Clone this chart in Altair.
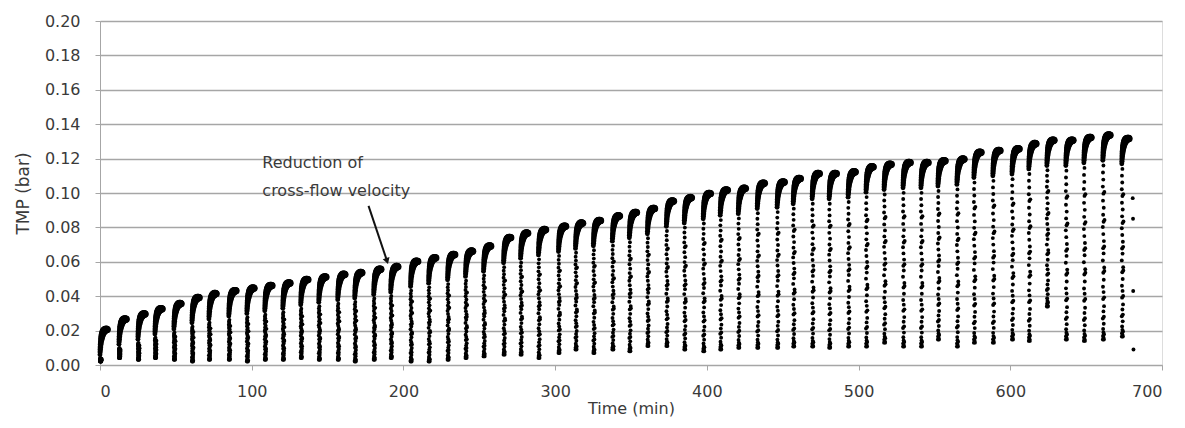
import altair as alt
import pandas as pd

# ---- data ----
CYCLE_START = [0.0, 12.5, 25.0, 36.2, 48.7, 60.6, 71.8, 84.9, 96.8, 108.6, 120.5, 132.3, 144.2, 156.7,
               167.9, 180.4, 191.6, 204.7, 216.6, 229.1, 240.9, 252.8, 266.0, 277.2, 289.0, 302.2,
               313.4, 325.2, 337.7, 348.9, 360.8, 373.3, 385.1, 397.6, 408.8, 420.7, 433.2, 446.3,
               456.9, 469.4, 480.6, 493.1, 504.9, 516.8, 529.3, 541.1, 552.3, 564.8, 576.0, 588.5,
               601.1, 612.2, 624.1, 636.6, 648.5, 661.0, 673.5]
CYCLE_PEAK = [0.023, 0.029, 0.032, 0.035, 0.038, 0.0415, 0.0438, 0.0455, 0.047, 0.0485, 0.050, 0.052,
              0.0535, 0.055, 0.056, 0.058, 0.0595, 0.0626, 0.0646, 0.0665, 0.0685, 0.0715, 0.0764,
              0.079, 0.081, 0.083, 0.0848, 0.0863, 0.089, 0.091, 0.0933, 0.0976, 0.0996, 0.102,
              0.104, 0.105, 0.108, 0.1087, 0.1107, 0.1136, 0.1136, 0.1146, 0.1175, 0.119, 0.120,
              0.120, 0.121, 0.122, 0.126, 0.127, 0.128, 0.131, 0.133, 0.133, 0.1346, 0.136, 0.134]
CYCLE_BOTTOM = [0.002, 0.004, 0.003, 0.004, 0.003, 0.002, 0.003, 0.003, 0.002, 0.003, 0.003, 0.004,
                0.003, 0.003, 0.002, 0.003, 0.004, 0.002, 0.002, 0.003, 0.004, 0.005, 0.006, 0.006,
                0.004, 0.007, 0.009, 0.007, 0.009, 0.008, 0.011, 0.011, 0.009, 0.008, 0.009, 0.010,
                0.010, 0.010, 0.0107, 0.0107, 0.010, 0.0107, 0.0107, 0.013, 0.0107, 0.0107, 0.0148,
                0.0107, 0.013, 0.013, 0.0148, 0.014, 0.034, 0.0148, 0.014, 0.0148, 0.0165]

COL_FRAC = [0.00, 0.00, 0.01, 0.02, 0.03, 0.04, 0.06, 0.09, 0.12, 0.13, 0.16, 0.19, 0.23, 0.24, 0.27,
            0.30, 0.34, 0.38, 0.39, 0.41, 0.45, 0.49, 0.52, 0.53, 0.56, 0.60, 0.64, 0.67, 0.68, 0.71,
            0.75, 0.79, 0.83, 0.84, 0.87, 0.91, 0.95, 0.99]
COL_DT = [0.0, 0.7, 0.5, 0.1, 0.8, 0.4, 0.2, 0.6, 0.0, 0.7, 0.4, 0.8, 0.2, 0.9, 0.5,
          0.1, 0.6, 0.3, 1.0, 0.9, 0.0, 0.5, 0.2, 0.9, 0.7, 0.3, 0.0, 0.5, 1.1, 0.2,
          0.6, 0.1, 0.4, 1.0, 0.0, 0.3, 0.1, 0.4]
BLOB_DT = [0.0, 0.1, 0.2, 0.3, 0.45, 0.6, 0.8, 1.0, 1.2, 1.5, 1.8, 2.1, 2.5, 2.9, 3.3, 3.7, 4.1, 4.5, 4.9]
BLOB_DV = [-0.0170, -0.0155, -0.0140, -0.0125, -0.0110, -0.0097, -0.0085, -0.0074, -0.0064, -0.0054,
           -0.0046, -0.0039, -0.0033, -0.0029, -0.0026, -0.0024, -0.0023, -0.0023, -0.0024]
BLOB_SIZE = [24, 26, 28, 30, 32, 35, 38, 42, 46, 50, 54, 58, 62, 64, 64, 62, 58, 52, 46]
COL_SIZE = 15

STRAY_T = [680.7, 680.9, 681.0, 681.2]
STRAY_V = [0.097, 0.085, 0.043, 0.009]

X_TICKS = [0, 100, 200, 300, 400, 500, 600, 700]
Y_TICKS = [0.00, 0.02, 0.04, 0.06, 0.08, 0.10, 0.12, 0.14, 0.16, 0.18, 0.20]

NOTE_T = [107.0, 107.0]
NOTE_V = [0.1175, 0.1012]
NOTE_TEXT = ["Reduction of", "cross-flow velocity"]
ARROW_T = [177.0, 189.0]
ARROW_V = [0.0925, 0.0610]

# ---- build table ----
rows = []
for t0, pk, bt in zip(CYCLE_START, CYCLE_PEAK, CYCLE_BOTTOM):
    top = pk - 0.019
    if top < bt:
        top = bt
    for f, dt in zip(COL_FRAC, COL_DT):
        rows.append({"t": t0 + dt, "v": bt + f * (top - bt), "s": COL_SIZE})
    for dt, dv, sz in zip(BLOB_DT, BLOB_DV, BLOB_SIZE):
        rows.append({"t": t0 + dt, "v": max(pk + dv, bt), "s": sz})
for t, v in zip(STRAY_T, STRAY_V):
    rows.append({"t": t, "v": v, "s": COL_SIZE})
df = pd.DataFrame(rows)

FONT = "DejaVu Sans"
GREY = "#a6a6a6"
TXT = "#3a3a3a"

xscale = alt.Scale(domain=[0, 700], nice=False, zero=False)
yscale = alt.Scale(domain=[0, 0.2], nice=False)

xaxis = alt.Axis(values=X_TICKS, format="d", grid=False, domainColor=GREY,
                 tickColor=GREY, tickSize=5, labelFont=FONT, labelFontSize=16,
                 labelColor=TXT, labelPadding=13, title="Time (min)",
                 titleFont=FONT, titleFontSize=16, titleFontWeight="normal",
                 titleColor=TXT, titleY=43, titleBaseline="middle")
yaxis = alt.Axis(values=Y_TICKS, format=".2f", grid=True, gridColor=GREY, gridWidth=1.5,
                 domainColor=GREY, tickColor=GREY, tickSize=5, labelFont=FONT,
                 labelFontSize=16, labelColor=TXT, labelPadding=15, labelOverlap=False,
                 title="TMP (bar)",
                 titleFont=FONT, titleFontSize=17, titleFontWeight="normal",
                 titleColor=TXT, titleX=-77, titleY=172, titleAngle=270,
                 titleAlign="center", titleBaseline="middle")


def X(field):
    return alt.X(field, scale=xscale, axis=xaxis, title="Time (min)")


def Y(field):
    return alt.Y(field, scale=yscale, axis=yaxis, title="TMP (bar)")


points = alt.Chart(df).mark_circle(color="#000000", opacity=1).encode(
    x=X("t:Q"), y=Y("v:Q"),
    size=alt.Size("s:Q", scale=None, legend=None),
)

note_df = pd.DataFrame({"t": NOTE_T, "v": NOTE_V, "label": NOTE_TEXT})
note = alt.Chart(note_df).mark_text(align="left", baseline="middle", font=FONT, fontSize=16,
                                    color=TXT).encode(
    x=X("t:Q"), y=Y("v:Q"), text="label:N")

arrow_df = pd.DataFrame({"t": [ARROW_T[0]], "v": [ARROW_V[0]], "t2": [ARROW_T[1]], "v2": [ARROW_V[1]]})
arrow = alt.Chart(arrow_df).mark_rule(color="#111111", strokeWidth=2).encode(
    x=X("t:Q"), y=Y("v:Q"), x2="t2:Q", y2="v2:Q")
head_df = pd.DataFrame({"t": [ARROW_T[1]], "v": [ARROW_V[1]]})
head = alt.Chart(head_df).mark_point(shape="triangle", filled=True, color="#111111", size=50,
                                     angle=162, opacity=1).encode(
    x=X("t:Q"), y=Y("v:Q"))

chart = alt.layer(points, note, arrow, head).properties(
    width=1062, height=344,
    padding={"left": 92, "top": 13, "right": 15, "bottom": 62},
    autosize=alt.AutoSizeParams(type="none"),
).configure_view(stroke=GREY, strokeWidth=1).configure(background="white")

chart.save("out.html", embed_options={"renderer": "svg", "actions": False})
